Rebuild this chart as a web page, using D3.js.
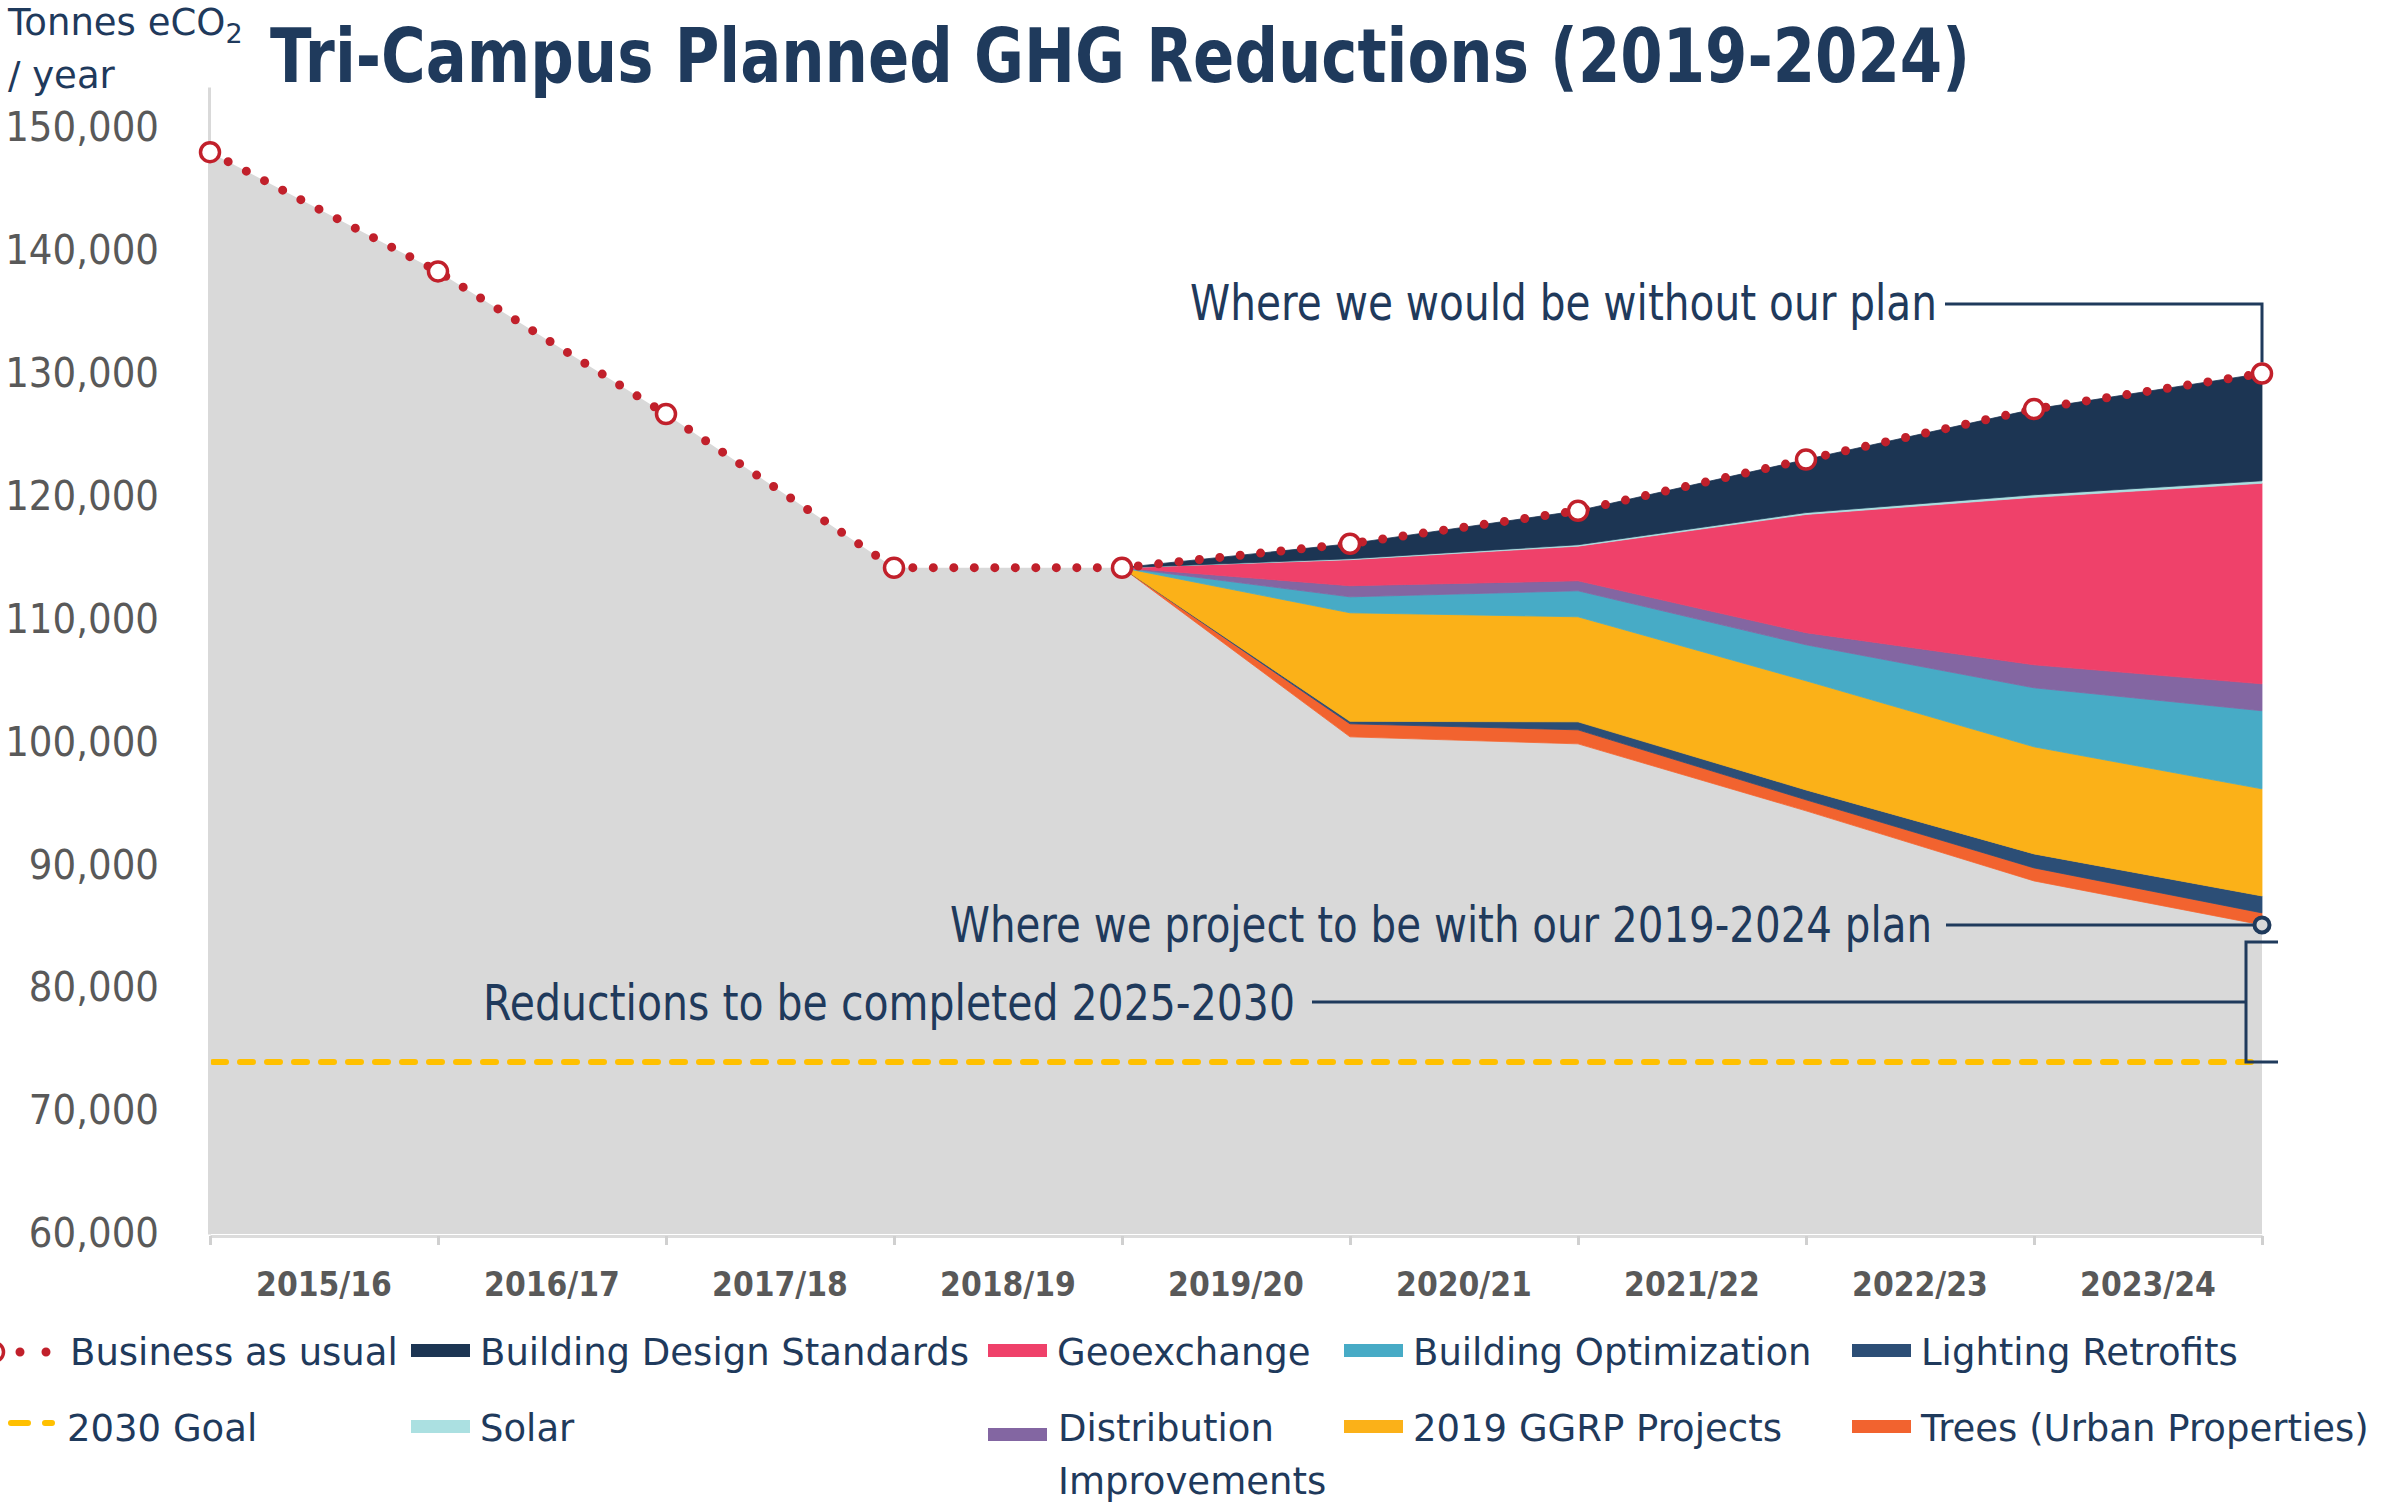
<!DOCTYPE html>
<html>
<head>
<meta charset="utf-8">
<script src="https://cdn.jsdelivr.net/npm/d3@7"></script>
<style>
  body { margin: 0; background: #ffffff; }
  svg { display: block; font-family: "DejaVu Sans", Verdana, sans-serif; }
</style>
</head>
<body>
<svg width="2381" height="1503"></svg>
<script>
// ---- data (tonnes eCO2 / year) ----
var yearLabels = ["2015/16", "2016/17", "2017/18", "2018/19", "2019/20",
                  "2020/21", "2021/22", "2022/23", "2023/24"];
var yTicks = [60000, 70000, 80000, 90000, 100000, 110000, 120000, 130000, 140000, 150000];

// one value per point on the axis (10 points, labels sit between them)
var bauValues          = [148000, 138300, 126700, 114200, 114200, 116150, 118830, 123000, 127100, 130000];
var projectedValues    = [148000, 138300, 126700, 114200, 114200, 100440, 99870, 94420, 88720, 85140];
var treesValues        = [0, 0, 0, 0, 0, 1060, 1140, 900, 1060, 980];
var lightingValues     = [0, 0, 0, 0, 0, 200, 650, 800, 1140, 1380];
var ggrpValues         = [0, 0, 0, 0, 0, 8830, 8545, 8880, 8710, 8710];
var optimizationValues = [0, 0, 0, 0, 0, 1300, 2115, 2930, 4800, 6350];
var distributionValues = [0, 0, 0, 0, 0, 900, 815, 980, 1870, 2190];
var geoexchangeValues  = [0, 0, 0, 0, 0, 2120, 2815, 9620, 13630, 16320];
var solarValues        = [0, 0, 0, 0, 0, 80, 115, 150, 200, 200];
var designValues       = [0, 0, 0, 0, 0, 1220, 2765, 4320, 6970, 8730];
var goalValue = 74000;

// stacked series, bottom to top
var seriesKeys = ["projected", "trees", "lighting", "ggrp", "optimization",
                  "distribution", "geoexchange", "solar", "design"];
var seriesNames = {
  projected: "Projected", trees: "Trees (Urban Properties)", lighting: "Lighting Retrofits",
  ggrp: "2019 GGRP Projects", optimization: "Building Optimization",
  distribution: "Distribution Improvements", geoexchange: "Geoexchange",
  solar: "Solar", design: "Building Design Standards"
};
var seriesColors = {
  projected: "#d9d9d9", trees: "#f2632f", lighting: "#2c4e76", ggrp: "#fbb118",
  optimization: "#47abc6", distribution: "#8366a2", geoexchange: "#ef416a",
  solar: "#abe0e1", design: "#1c3553"
};

var svg = d3.select("svg");
var navy = "#1f3a5c";
var axisGrey = "#595959";
var red = "#c1202b";

// plot box
var plot = { left: 210, right: 2262, top: 87, bottom: 1234 };

var x = d3.scaleLinear().domain([0, 9]).range([plot.left, plot.right]);
var xBand = d3.scaleBand().domain(yearLabels).range([plot.left, plot.right]);
var y = d3.scaleLinear().domain([60000, 153300]).range([plot.bottom, plot.top]).clamp(true);

// squeeze text to look like the narrow original face
var squeeze = function(sel, k) {
  sel.each(function() {
    var w = this.getComputedTextLength();
    d3.select(this).attr("textLength", w * k).attr("lengthAdjust", "spacingAndGlyphs");
  });
};
var fit = function(sel, w) {
  sel.attr("textLength", w).attr("lengthAdjust", "spacingAndGlyphs");
};

// rows for the stack
var rows = d3.range(10).map(function(i) {
  return {
    i: i,
    projected: projectedValues[i], trees: treesValues[i], lighting: lightingValues[i],
    ggrp: ggrpValues[i], optimization: optimizationValues[i],
    distribution: distributionValues[i], geoexchange: geoexchangeValues[i],
    solar: solarValues[i], design: designValues[i]
  };
});
var stacked = d3.stack().keys(seriesKeys)(rows);

var area = d3.area()
  .x(function(d) { return x(d.data.i); })
  .y0(function(d) { return y(d[0]); })
  .y1(function(d) { return y(d[1]); });

svg.append("g")
  .selectAll("path")
  .data(stacked)
  .enter()
  .append("path")
  .attr("d", function(s) {
    // reduction layers only start at 2019
    var pts = s.key == "projected" ? s : s.filter(function(d) { return d.data.i >= 4; });
    return area(pts);
  })
  .attr("fill", function(s) { return seriesColors[s.key]; })
  .attr("stroke", function(s) { return s.key == "projected" ? "none" : seriesColors[s.key]; })
  .attr("stroke-width", 0.8);

// 2030 goal
svg.append("line")
  .attr("x1", plot.left + 3).attr("x2", plot.right)
  .attr("y1", y(goalValue)).attr("y2", y(goalValue))
  .attr("stroke", "#ffc000")
  .attr("stroke-width", 6)
  .attr("stroke-dasharray", "13 14")
  .attr("stroke-linecap", "round");

// y axis
var yAxis = d3.axisLeft(y).tickValues(yTicks).tickFormat(d3.format(",")).tickSize(0).tickSizeOuter(0).tickPadding(50);
var gy = svg.append("g").attr("transform", "translate(" + (plot.left - 1) + ",0)").call(yAxis);
gy.select(".domain").attr("stroke", "#d9d9d9").attr("stroke-width", 3);
gy.selectAll("text")
  .attr("font-family", "DejaVu Sans, sans-serif")
  .attr("font-size", 40)
  .attr("fill", axisGrey)
  .call(squeeze, 0.93);

// x axis: ticks on the points, labels between them
var xAxis = d3.axisBottom(x).tickValues(d3.range(10)).tickFormat("").tickSize(9).tickSizeOuter(0);
var gx = svg.append("g").attr("transform", "translate(0," + (plot.bottom + 2) + ")").call(xAxis);
gx.select(".domain").attr("stroke", "#dcdcdc").attr("stroke-width", 3);
gx.selectAll(".tick line").attr("stroke", "#d0d0d0").attr("stroke-width", 3);

var xLabels = d3.axisBottom(xBand).tickSize(0).tickPadding(0);
var gxl = svg.append("g").attr("transform", "translate(0,1272)").call(xLabels);
gxl.select(".domain").remove();
gxl.selectAll("text")
  .attr("dy", "0.71em")
  .attr("font-family", "DejaVu Sans, sans-serif")
  .attr("font-size", 34)
  .attr("font-weight", "bold")
  .attr("fill", axisGrey)
  .call(squeeze, 0.88);

// annotations
var projY = y(projectedValues[9]);
var lead = svg.append("g").attr("fill", "none").attr("stroke", navy).attr("stroke-width", 3);
lead.append("path").attr("d", "M1945,304H" + x(9) + "V" + (y(bauValues[9]) - 11));
lead.append("path").attr("d", "M1946," + projY + "H" + (x(9) - 9));
var brTop = projY + 17, brBot = y(goalValue);
lead.append("path").attr("d", "M2278," + brTop + "H2246V" + brBot + "H2278");
lead.append("path").attr("d", "M1312," + ((brTop + brBot) / 2) + "H2246");

var notes = svg.append("g").attr("fill", navy).attr("font-size", 50);
notes.append("text").attr("x", 1190).attr("y", 320)
  .text("Where we would be without our plan").call(fit, 747);
notes.append("text").attr("x", 950).attr("y", projY + 17)
  .text("Where we project to be with our 2019-2024 plan").call(fit, 982);
notes.append("text").attr("x", 483).attr("y", (brTop + brBot) / 2 + 18)
  .text("Reductions to be completed 2025-2030").call(fit, 812);

// business as usual dotted line + markers
var bauLine = d3.line()
  .x(function(d, i) { return x(i); })
  .y(function(d) { return y(d); });

svg.append("path")
  .attr("d", bauLine(bauValues))
  .attr("fill", "none")
  .attr("stroke", red)
  .attr("stroke-width", 9)
  .attr("stroke-dasharray", "0 20.5")
  .attr("stroke-linecap", "round");

svg.append("g")
  .selectAll("circle")
  .data(bauValues)
  .enter()
  .append("circle")
  .attr("cx", function(d, i) { return x(i); })
  .attr("cy", function(d) { return y(d); })
  .attr("r", 9.5)
  .attr("fill", "#ffffff")
  .attr("stroke", red)
  .attr("stroke-width", 3.5);

// end point of the plan
svg.append("circle")
  .attr("cx", x(9)).attr("cy", projY)
  .attr("r", 7.5)
  .attr("fill", "#d9d9d9")
  .attr("stroke", navy)
  .attr("stroke-width", 4);

// title and y axis title
svg.append("text")
  .attr("x", 270).attr("y", 82)
  .attr("font-size", 74)
  .attr("font-weight", "bold")
  .attr("fill", navy)
  .text("Tri-Campus Planned GHG Reductions (2019-2024)")
  .call(fit, 1700);

var yTitle = svg.append("text").attr("x", 8).attr("y", 35).attr("font-size", 37).attr("fill", navy);
yTitle.append("tspan").text("Tonnes eCO");
yTitle.append("tspan").attr("font-size", 27).attr("dy", 8).text("2");
svg.append("text").attr("x", 8).attr("y", 88).attr("font-size", 37).attr("fill", navy).text("/ year");

// legend, five columns by two rows
var legendOrder = ["bau", "design", "geoexchange", "optimization", "lighting",
                   "goal", "solar", "distribution", "ggrp", "trees"];
var colX = [0, 411, 988, 1344, 1852];
var rowBase = [1365, 1441];

var legend = svg.append("g").attr("font-size", 37).attr("fill", navy);
legendOrder.forEach(function(key, n) {
  var col = n % 5, row = Math.floor(n / 5);
  var base = rowBase[row];
  var g = legend.append("g");
  if (key == "bau") {
    g.append("path").attr("d", "M-6," + (base - 13) + "H50")
      .attr("stroke", red).attr("stroke-width", 9)
      .attr("stroke-dasharray", "0 26").attr("stroke-linecap", "round");
    g.append("circle").attr("cx", -6).attr("cy", base - 13).attr("r", 9.5)
      .attr("fill", "#fff").attr("stroke", red).attr("stroke-width", 3.5);
    g.append("text").attr("x", 70).attr("y", base).text("Business as usual");
  } else if (key == "goal") {
    g.append("path").attr("d", "M11," + (base - 18) + "H52")
      .attr("stroke", "#ffc000").attr("stroke-width", 6)
      .attr("stroke-dasharray", "17 17").attr("stroke-linecap", "round");
    g.append("text").attr("x", 67).attr("y", base).text("2030 Goal");
  } else {
    var sy = key == "distribution" ? base - 13 : base - 21;
    g.append("rect")
      .attr("x", colX[col]).attr("y", sy)
      .attr("width", 59).attr("height", 13)
      .attr("fill", seriesColors[key]);
    if (key == "distribution") {
      g.append("text").attr("x", colX[col] + 70).attr("y", base).text("Distribution");
      g.append("text").attr("x", colX[col] + 70).attr("y", base + 53).text("Improvements");
    } else {
      g.append("text").attr("x", colX[col] + 69).attr("y", base).text(seriesNames[key]);
    }
  }
});
</script>
</body>
</html>
